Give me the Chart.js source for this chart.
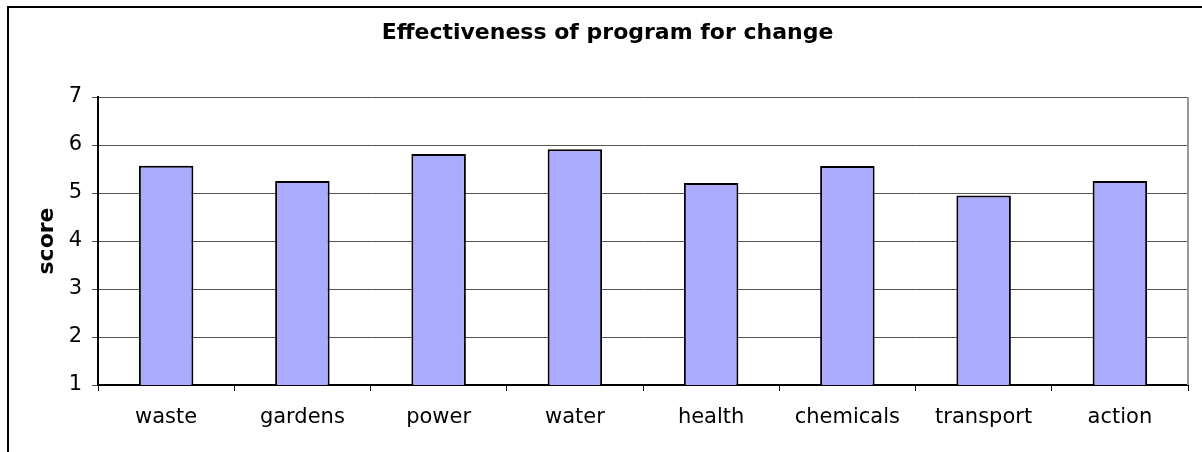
<!DOCTYPE html>
<html>
<head>
<meta charset="utf-8">
<script src="https://cdn.jsdelivr.net/npm/chart.js@4"></script>
<style>
  html, body { margin: 0; padding: 0; background: #fff; }
</style>
</head>
<body>
<canvas id="myChart" width="1202" height="452"></canvas>
<script>
const categories = ['waste', 'gardens', 'power', 'water', 'health', 'chemicals', 'transport', 'action'];
const scores = [5.57, 5.25, 5.81, 5.91, 5.21, 5.56, 4.95, 5.25];
const yTicks = [1, 2, 3, 4, 5, 6, 7];

// outer frame + grey plot border, like the old spreadsheet chart
const frame = {
  id: 'frame',
  beforeDraw(chart) {
    const c = chart.ctx;
    c.save();
    c.fillStyle = '#fff';
    c.fillRect(0, 0, chart.width, chart.height);
    c.fillStyle = '#000';
    c.fillRect(7, 6, 2, chart.height - 6);
    c.fillRect(7, 6, chart.width - 7, 2);
    c.restore();
  },
  afterDatasetsDraw(chart) {
    const a = chart.chartArea;
    const c = chart.ctx;
    c.save();
    c.strokeStyle = '#999';
    c.lineWidth = 2;
    c.beginPath();
    c.moveTo(a.right, a.top);
    c.lineTo(a.right, a.bottom);
    c.stroke();
    c.restore();
  }
};

const ctx = document.getElementById('myChart');
new Chart(ctx, {
  type: 'bar',
  data: {
    labels: categories,
    datasets: [{
      label: 'score',
      data: scores,
      backgroundColor: '#aaaaff',
      borderColor: '#000',
      borderWidth: 2,
      categoryPercentage: 1,
      barPercentage: 0.4
    }]
  },
  options: {
    responsive: false,
    animation: false,
    layout: { padding: { left: 27, right: 14, top: 0, bottom: 0 } },
    plugins: {
      legend: { display: false },
      tooltip: { enabled: false },
      title: {
        display: true,
        text: 'Effectiveness of program for change',
        color: '#000',
        font: { family: 'DejaVu Sans', size: 22, weight: 'bold' },
        padding: { top: 20, bottom: 50.6 }
      }
    },
    scales: {
      x: {
        grid: { offset: true, drawOnChartArea: false, tickLength: 6, color: '#000' },
        border: { color: '#000', width: 2 },
        ticks: {
          color: '#000',
          padding: 14,
          font: { family: 'DejaVu Sans', size: 21 }
        },
        afterFit(scale) { scale.height = 67; }
      },
      y: {
        min: 1,
        max: 7,
        afterBuildTicks(scale) { scale.ticks = yTicks.map(v => ({ value: v })); },
        grid: { color: '#555', tickLength: 6 },
        border: { color: '#000', width: 2 },
        ticks: {
          color: '#000',
          padding: 10,
          font: { family: 'DejaVu Sans', size: 21 }
        },
        title: {
          display: true,
          text: 'score',
          color: '#000',
          font: { family: 'DejaVu Sans', size: 22, weight: 'bold' },
          padding: { top: 7, bottom: 0 }
        },
        afterFit(scale) { scale.width = 71; }
      }
    }
  },
  plugins: [frame]
});
</script>
</body>
</html>
